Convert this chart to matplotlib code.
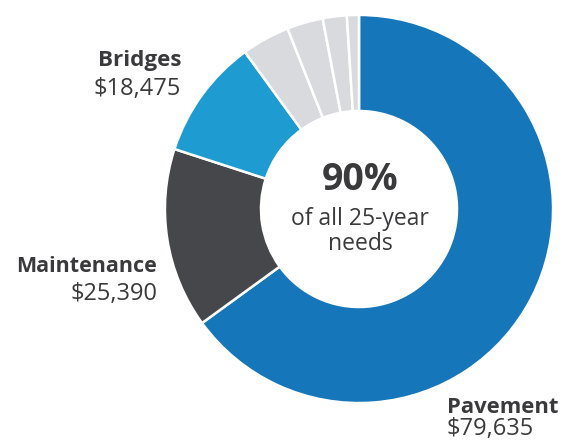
import matplotlib
matplotlib.use("Agg")
import matplotlib.pyplot as plt

categories = ["Pavement", "Maintenance", "Bridges", "Other 1", "Other 2", "Other 3", "Other 4"]
shares = [65, 15, 10, 4, 3, 2, 1]
colors = ["#1576BA", "#46474B", "#1E9BD0", "#D9DADE", "#D9DADE", "#D9DADE", "#D9DADE"]
label_names = ["Bridges", "Maintenance", "Pavement"]
label_values = ["$18,475", "$25,390", "$79,635"]
center_big = "90%"
center_small = ["of all 25-year", "needs"]

plt.rcParams['font.family'] = ['Open Sans', 'DejaVu Sans']
W, H = 568, 442
fig = plt.figure(figsize=(W / 100, H / 100), dpi=100)

cx, cy, r = 359, 209, 196
ax = fig.add_axes([(cx - r) / W, (H - cy - r) / H, 2 * r / W, 2 * r / H])
ax.pie(shares, colors=colors, startangle=90, counterclock=False, radius=1.0,
       wedgeprops=dict(width=0.495, edgecolor="white", linewidth=1.8))
ax.set_xlim(-1.01, 1.01)
ax.set_ylim(-1.01, 1.01)
ax.set_aspect("equal")
ax.axis("off")

tc = "#3A3A3C"
def ftext(x, y, s, **kw):
    fig.text(x / W, 1 - y / H, s, color=tc, va="baseline", **kw)

# Bridges
ftext(181, 66, label_names[0], ha="right", fontsize=16.2, fontweight="bold")
ftext(181, 95, label_values[0], ha="right", fontsize=17)
# Maintenance
ftext(157, 272, label_names[1], ha="right", fontsize=15.5, fontweight="bold")
ftext(157, 300, label_values[1], ha="right", fontsize=17)
# Pavement
ftext(447, 413, label_names[2], ha="left", fontsize=15.8, fontweight="bold")
ftext(447, 435, label_values[2], ha="left", fontsize=17)

# Center
ftext(360, 190, center_big, ha="center", fontsize=27, fontweight="bold")
ftext(360, 225, center_small[0], ha="center", fontsize=16.5)
ftext(360, 250, center_small[1], ha="center", fontsize=16.5)

fig.savefig("out.png", dpi=100)
